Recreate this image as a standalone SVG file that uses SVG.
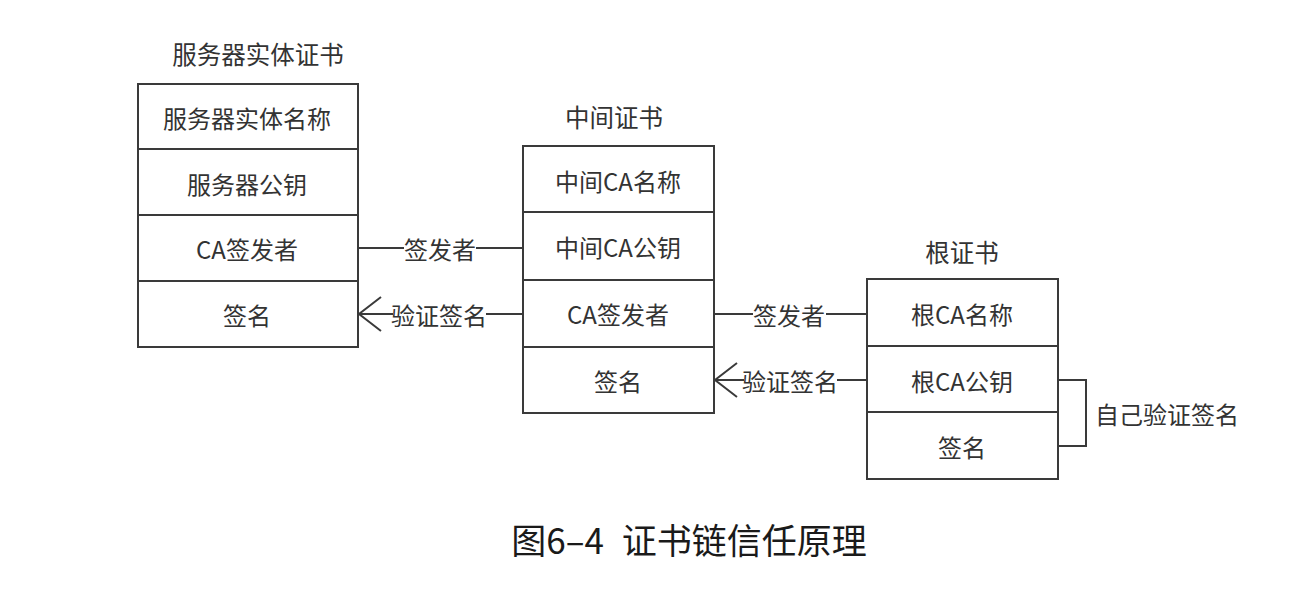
<svg xmlns="http://www.w3.org/2000/svg" width="1300" height="596" viewBox="0 0 1300 596">
  <style>
    .box { fill: #ffffff; stroke: #3a3a3a; stroke-width: 2; }
    .div { stroke: #3a3a3a; stroke-width: 2; }
    .t { font-family: "Noto Sans CJK SC", "Liberation Sans", sans-serif; font-size: 24px; fill: #333333; text-anchor: middle; dominant-baseline: central; }
    .title { font-size: 24.5px; }
    .lbl { font-family: "Noto Sans CJK SC", "Liberation Sans", sans-serif; font-size: 24px; fill: #333333; text-anchor: middle; dominant-baseline: central; }
    .conn { stroke: #3a3a3a; stroke-width: 2; fill: none; }
    .cap { font-family: "Noto Sans CJK SC", "Liberation Sans", sans-serif; font-size: 35px; fill: #1a1a1a; text-anchor: middle; dominant-baseline: central; word-spacing: 10px; }
  </style>
  <rect width="1300" height="596" fill="#ffffff"/>

  <!-- server entity certificate -->
  <g id="server-cert">
    <text class="t title" x="258" y="53">服务器实体证书</text>
    <rect class="box" x="138" y="84" width="220" height="263"/>
    <line class="div" x1="138" y1="149" x2="358" y2="149"/>
    <line class="div" x1="138" y1="215" x2="358" y2="215"/>
    <line class="div" x1="138" y1="281" x2="358" y2="281"/>
    <text class="t" x="247" y="117">服务器实体名称</text>
    <text class="t" x="247" y="183">服务器公钥</text>
    <text class="t" x="247" y="248">CA签发者</text>
    <text class="t" x="247" y="314">签名</text>
  </g>

  <!-- intermediate certificate -->
  <g id="intermediate-cert">
    <text class="t title" x="614" y="116">中间证书</text>
    <rect class="box" x="523" y="146" width="191" height="267"/>
    <line class="div" x1="523" y1="212" x2="714" y2="212"/>
    <line class="div" x1="523" y1="280" x2="714" y2="280"/>
    <line class="div" x1="523" y1="347" x2="714" y2="347"/>
    <text class="t" x="618" y="180">中间CA名称</text>
    <text class="t" x="618" y="246">中间CA公钥</text>
    <text class="t" x="618" y="313">CA签发者</text>
    <text class="t" x="618" y="380">签名</text>
  </g>

  <!-- root certificate -->
  <g id="root-cert">
    <text class="t title" x="962" y="251">根证书</text>
    <rect class="box" x="867" y="279" width="191" height="200"/>
    <line class="div" x1="867" y1="346" x2="1058" y2="346"/>
    <line class="div" x1="867" y1="412" x2="1058" y2="412"/>
    <text class="t" x="962" y="313">根CA名称</text>
    <text class="t" x="962" y="380">根CA公钥</text>
    <text class="t" x="962" y="446">签名</text>
  </g>

  <!-- connectors -->
  <g id="connectors">
    <!-- server -> intermediate issuer -->
    <line class="conn" x1="358" y1="248" x2="404" y2="248"/>
    <line class="conn" x1="476" y1="248" x2="523" y2="248"/>
    <text class="lbl" x="440" y="248">签发者</text>

    <!-- intermediate verifies server signature -->
    <line class="conn" x1="359" y1="314" x2="393" y2="314"/>
    <polyline class="conn" points="381,297 359,314 381,331"/>
    <line class="conn" x1="486" y1="314" x2="523" y2="314"/>
    <text class="lbl" x="439" y="314">验证签名</text>

    <!-- intermediate -> root issuer -->
    <line class="conn" x1="714" y1="314" x2="753" y2="314"/>
    <line class="conn" x1="826" y1="314" x2="867" y2="314"/>
    <text class="lbl" x="789" y="314">签发者</text>

    <!-- root verifies intermediate signature -->
    <line class="conn" x1="715" y1="380" x2="744" y2="380"/>
    <polyline class="conn" points="737,363 715,380 737,397"/>
    <line class="conn" x1="837" y1="380" x2="867" y2="380"/>
    <text class="lbl" x="790" y="380">验证签名</text>

    <!-- root self-verification bracket -->
    <polyline class="conn" points="1058,380 1086,380 1086,446 1058,446"/>
    <text class="lbl" x="1167" y="413">自己验证签名</text>
  </g>

  <text class="cap" x="689" y="538">图6–4 证书链信任原理</text>
</svg>
